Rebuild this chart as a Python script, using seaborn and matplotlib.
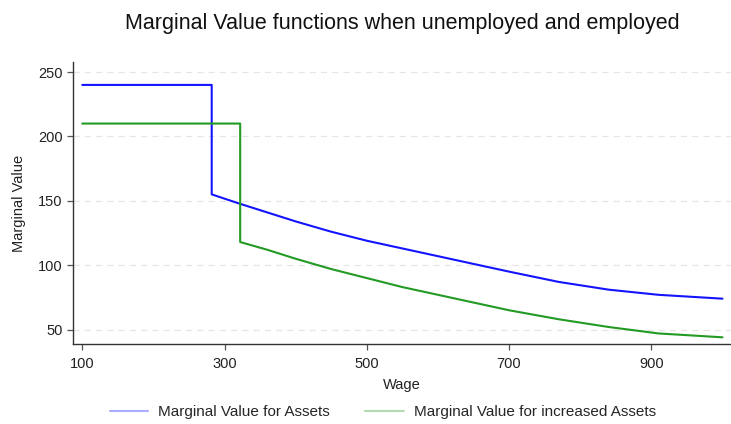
import numpy as np
import pandas as pd
import matplotlib
matplotlib.use('Agg')
import matplotlib.pyplot as plt
from matplotlib.lines import Line2D
import seaborn as sns

# data
wage_assets = [100, 282, 282, 320, 360, 400, 450, 500, 550, 600, 650, 700, 770, 840, 910, 1000]
mv_assets = [240, 240, 155, 148, 141, 134, 126, 119, 113, 107, 101, 95, 87, 81, 77, 74]
wage_incr = [100, 322, 322, 360, 400, 450, 500, 550, 600, 650, 700, 770, 840, 910, 1000]
mv_incr = [210, 210, 118, 112, 105, 97, 90, 83, 77, 71, 65, 58, 52, 47, 44]
labels = ['Marginal Value for Assets', 'Marginal Value for increased Assets']
xticks = [100, 300, 500, 700, 900]
yticks = [50, 100, 150, 200, 250]

df_a = pd.DataFrame({'wage': wage_assets, 'mv': mv_assets})
df_b = pd.DataFrame({'wage': wage_incr, 'mv': mv_incr})

sns.set_style('white')
plt.rcParams['font.family'] = ['Liberation Sans', 'DejaVu Sans']

blue = '#1414ff'
green = '#239a23'

fig = plt.figure(figsize=(7.31, 4.24), dpi=100)
ax = fig.add_axes([73/731, 1 - 344/424, 1 - 73/731, (344 - 62)/424])

sns.lineplot(data=df_a, x='wage', y='mv', ax=ax, color=blue, lw=1.5,
             estimator=None, sort=False)
sns.lineplot(data=df_b, x='wage', y='mv', ax=ax, color=green, lw=1.5,
             estimator=None, sort=False)

ax.set_xlim(87, 1012)
ax.set_ylim(38.8, 257.8)
ax.set_xticks(xticks)
ax.set_yticks(yticks)
ax.yaxis.grid(True, color='#e6e6e6', ls=(0, (5, 4)), lw=0.9)
ax.set_axisbelow(True)
for s in ['top', 'right']:
    ax.spines[s].set_visible(False)
for s in ['left', 'bottom']:
    ax.spines[s].set_color('#333333')
    ax.spines[s].set_linewidth(1.0)
ax.tick_params(axis='both', direction='out', length=4.3, width=0.9,
               color='#555555', labelsize=10.5, labelcolor='#222222',
               left=True, bottom=True)
ax.tick_params(axis='x', pad=5)
ax.tick_params(axis='y', pad=3)
ax.set_xlabel('Wage', fontsize=10.5, color='#222222', labelpad=5)
ax.set_ylabel('Marginal Value', fontsize=10.5, color='#222222', labelpad=9)

fig.suptitle('Marginal Value functions when unemployed and employed',
             x=402/731, y=1 - 13/424, va='top', fontsize=15.5, color='#111111')

handles = [Line2D([], [], color=blue, lw=1.5, alpha=0.35),
           Line2D([], [], color=green, lw=1.5, alpha=0.35)]
fig.legend(handles, labels, loc='center', bbox_to_anchor=(383/731, 1 - 412/424),
           ncol=2, frameon=False, fontsize=11, handlelength=2.5,
           columnspacing=2.3, handletextpad=0.7)

fig.savefig('out.png', dpi=100)
